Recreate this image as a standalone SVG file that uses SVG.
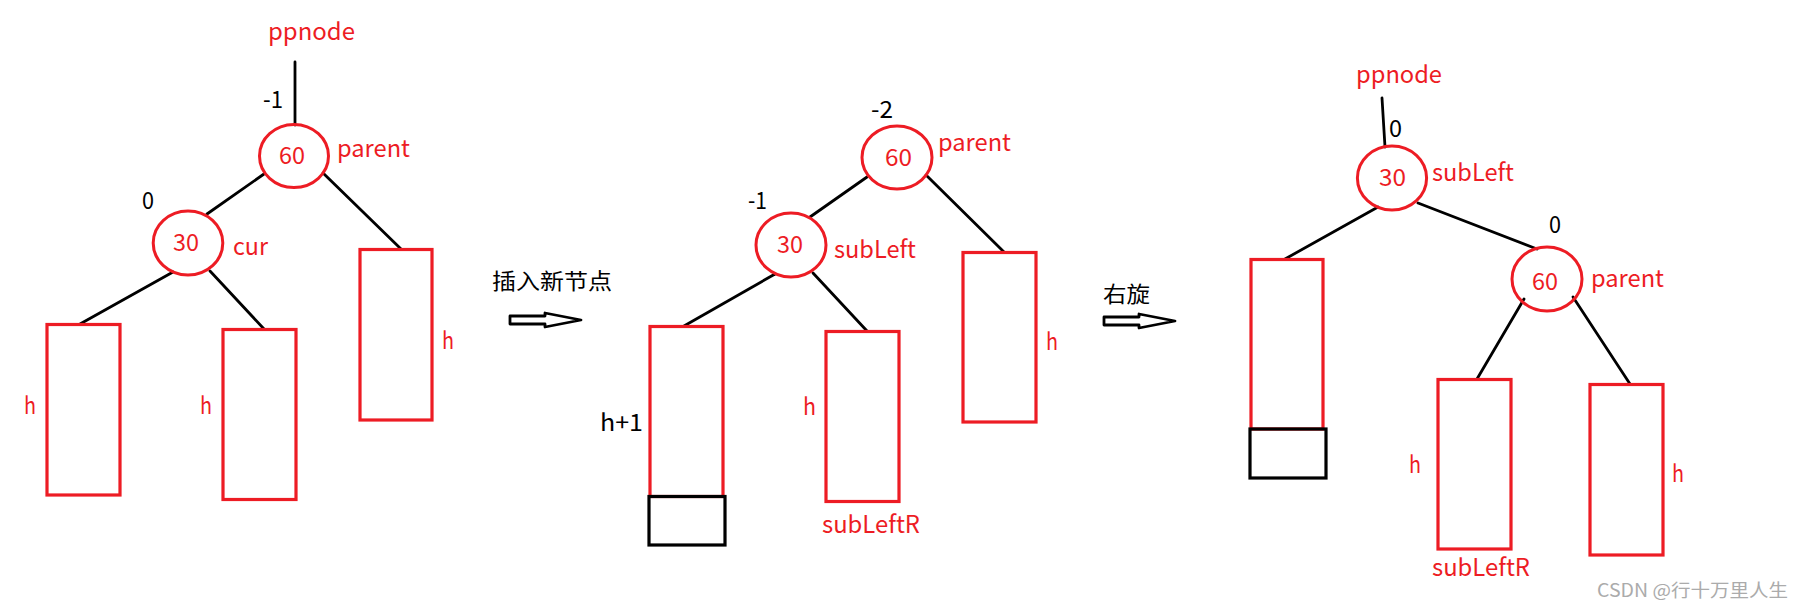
<svg xmlns="http://www.w3.org/2000/svg" width="1804" height="610" viewBox="0 0 1804 610">
<style>
.bg{fill:#fff}
.t{font-family:"Noto Sans CJK SC","Noto Sans",sans-serif;font-size:24px}
.r{fill:#ED1C24}
.k{fill:#000}
.cn{font-family:"Noto Sans CJK SC",sans-serif;font-size:22px;fill:#000}
.node{fill:none;stroke:#ED1C24;stroke-width:3}
.box{fill:none;stroke:#ED1C24;stroke-width:3.2}
.newbox{fill:none;stroke:#000;stroke-width:3.2}
.edge{stroke:#000;stroke-width:2.8;fill:none;stroke-linecap:round}
.bigarrow{fill:#fff;stroke:#000;stroke-width:2.8;stroke-linejoin:round}
.wm{font-family:"Noto Sans CJK SC",sans-serif;font-size:18px;fill:#ababab}
</style>
<rect class="bg" x="0" y="0" width="1804" height="610"/>

<g id="connectors">
  <!-- panel 1 -->
  <line class="edge" x1="295" y1="62" x2="295" y2="125"/>
  <line class="edge" x1="264" y1="174" x2="207" y2="214"/>
  <line class="edge" x1="323" y1="173" x2="401" y2="249"/>
  <line class="edge" x1="173" y1="272" x2="80" y2="324"/>
  <line class="edge" x1="210" y1="271" x2="264" y2="329"/>
  <!-- panel 2 -->
  <line class="edge" x1="867" y1="177" x2="810" y2="217"/>
  <line class="edge" x1="926" y1="175" x2="1004" y2="252"/>
  <line class="edge" x1="775" y1="274" x2="684" y2="326"/>
  <line class="edge" x1="813" y1="273" x2="867" y2="331"/>
  <!-- panel 3 -->
  <line class="edge" x1="1382" y1="98" x2="1385" y2="147"/>
  <line class="edge" x1="1378" y1="207" x2="1285" y2="259"/>
  <line class="edge" x1="1418" y1="203" x2="1537" y2="249"/>
  <line class="edge" x1="1524" y1="299" x2="1477" y2="379"/>
  <line class="edge" x1="1573" y1="297" x2="1630" y2="384"/>
  <!-- transition arrows -->
  <polygon class="bigarrow" points="510,316 545,316 545,313 581,320 545,327 545,324 510,324"/>
  <polygon class="bigarrow" points="1104,317 1139,317 1139,314 1175,321 1139,328 1139,325 1104,325"/>
</g>

<!-- ===== Panel 1 ===== -->
<g id="p1-ppnode"><text class="t r" x="268" y="40" textLength="87" lengthAdjust="spacingAndGlyphs">ppnode</text></g>
<g id="p1-bf60"><text class="t k" x="263" y="108" textLength="20" lengthAdjust="spacingAndGlyphs">-1</text></g>
<g id="p1-n60">
  <ellipse class="node" cx="294" cy="156" rx="34.5" ry="31.5"/>
  <text class="t r" x="279" y="164" textLength="26" lengthAdjust="spacingAndGlyphs">60</text>
  <text class="t r" x="337" y="157" textLength="73" lengthAdjust="spacingAndGlyphs">parent</text>
</g>
<g id="p1-bf30"><text class="t k" x="142" y="209" textLength="12" lengthAdjust="spacingAndGlyphs">0</text></g>
<g id="p1-n30">
  <ellipse class="node" cx="188" cy="243" rx="34.8" ry="32"/>
  <text class="t r" x="173" y="251" textLength="26" lengthAdjust="spacingAndGlyphs">30</text>
  <text class="t r" x="233" y="255" textLength="35" lengthAdjust="spacingAndGlyphs">cur</text>
</g>
<g id="p1-right">
  <rect class="box" x="360" y="249.5" width="72" height="170.5"/>
  <text class="t r" x="442" y="349" textLength="12" lengthAdjust="spacingAndGlyphs">h</text>
</g>
<g id="p1-left">
  <rect class="box" x="47" y="324.5" width="73" height="170.5"/>
  <text class="t r" x="24" y="414" textLength="12" lengthAdjust="spacingAndGlyphs">h</text>
</g>
<g id="p1-mid">
  <rect class="box" x="223" y="329.5" width="73" height="170"/>
  <text class="t r" x="200" y="414" textLength="12" lengthAdjust="spacingAndGlyphs">h</text>
</g>
<g id="label-insert"><text class="cn" x="492" y="289" textLength="120" lengthAdjust="spacingAndGlyphs">插入新节点</text></g>

<!-- ===== Panel 2 ===== -->
<g id="p2-bf60"><text class="t k" x="871" y="118" textLength="22" lengthAdjust="spacingAndGlyphs">-2</text></g>
<g id="p2-n60">
  <ellipse class="node" cx="897" cy="157.5" rx="35" ry="31.5"/>
  <text class="t r" x="885" y="166" textLength="27" lengthAdjust="spacingAndGlyphs">60</text>
  <text class="t r" x="938" y="151" textLength="73" lengthAdjust="spacingAndGlyphs">parent</text>
</g>
<g id="p2-bf30"><text class="t k" x="748" y="209" textLength="19" lengthAdjust="spacingAndGlyphs">-1</text></g>
<g id="p2-n30">
  <ellipse class="node" cx="791" cy="245" rx="35" ry="32"/>
  <text class="t r" x="777" y="253" textLength="26" lengthAdjust="spacingAndGlyphs">30</text>
  <text class="t r" x="834" y="258" textLength="82" lengthAdjust="spacingAndGlyphs">subLeft</text>
</g>
<g id="p2-right">
  <rect class="box" x="963" y="252.5" width="73" height="169.5"/>
  <text class="t r" x="1046" y="350" textLength="12" lengthAdjust="spacingAndGlyphs">h</text>
</g>
<g id="p2-left">
  <rect class="box" x="650" y="326.5" width="73" height="170"/>
  <rect class="newbox" x="649" y="496.5" width="76" height="48.5"/>
  <text class="t k" x="600" y="431" textLength="43" lengthAdjust="spacingAndGlyphs">h+1</text>
</g>
<g id="p2-mid">
  <rect class="box" x="826" y="331.5" width="73" height="170"/>
  <text class="t r" x="803" y="415" textLength="13" lengthAdjust="spacingAndGlyphs">h</text>
  <text class="t r" x="822" y="533" textLength="98" lengthAdjust="spacingAndGlyphs">subLeftR</text>
</g>
<g id="label-rotate"><text class="cn" x="1103" y="302" textLength="47" lengthAdjust="spacingAndGlyphs">右旋</text></g>

<!-- ===== Panel 3 ===== -->
<g id="p3-ppnode"><text class="t r" x="1356" y="83" textLength="86" lengthAdjust="spacingAndGlyphs">ppnode</text></g>
<g id="p3-bf30"><text class="t k" x="1389" y="137" textLength="13" lengthAdjust="spacingAndGlyphs">0</text></g>
<g id="p3-n30">
  <ellipse class="node" cx="1392" cy="178" rx="34.6" ry="32"/>
  <text class="t r" x="1379" y="186" textLength="27" lengthAdjust="spacingAndGlyphs">30</text>
  <text class="t r" x="1432" y="181" textLength="82" lengthAdjust="spacingAndGlyphs">subLeft</text>
</g>
<g id="p3-left">
  <rect class="box" x="1251" y="259.5" width="72" height="169.5"/>
  <rect class="newbox" x="1250" y="429" width="76" height="49"/>
</g>
<g id="p3-bf60"><text class="t k" x="1549" y="233" textLength="12" lengthAdjust="spacingAndGlyphs">0</text></g>
<g id="p3-n60">
  <ellipse class="node" cx="1547" cy="279" rx="35" ry="32"/>
  <text class="t r" x="1532" y="290" textLength="26" lengthAdjust="spacingAndGlyphs">60</text>
  <text class="t r" x="1591" y="287" textLength="73" lengthAdjust="spacingAndGlyphs">parent</text>
</g>
<g id="p3-mid">
  <rect class="box" x="1438" y="379.5" width="73" height="169.5"/>
  <text class="t r" x="1409" y="473" textLength="12" lengthAdjust="spacingAndGlyphs">h</text>
  <text class="t r" x="1432" y="576" textLength="98" lengthAdjust="spacingAndGlyphs">subLeftR</text>
</g>
<g id="p3-right">
  <rect class="box" x="1590" y="384.5" width="73" height="170.5"/>
  <text class="t r" x="1672" y="482" textLength="12" lengthAdjust="spacingAndGlyphs">h</text>
</g>

<g id="watermark"><text class="wm" x="1597" y="597" textLength="191" lengthAdjust="spacingAndGlyphs">CSDN @行十万里人生</text></g>
</svg>
